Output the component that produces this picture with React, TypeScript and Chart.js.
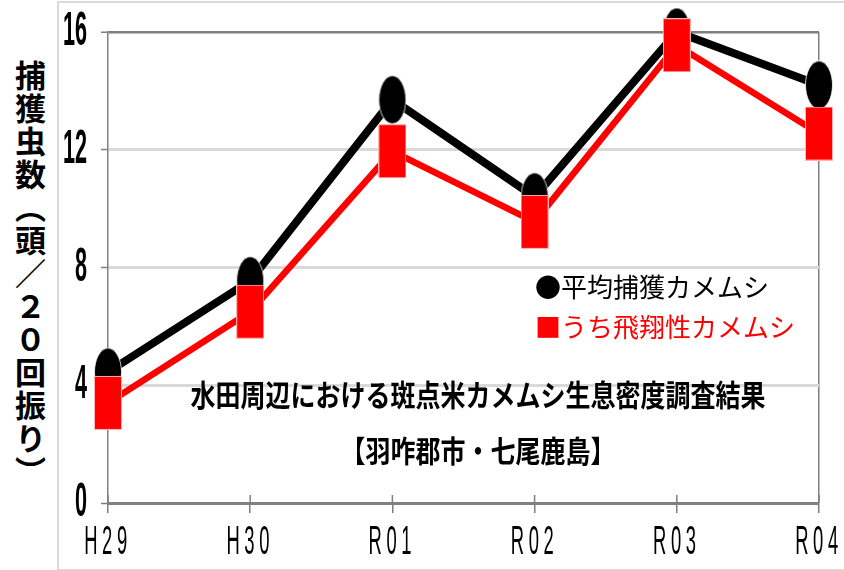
import React, { useEffect, useRef } from 'react';
import { Chart, registerables, LinearScale, CategoryScale } from 'chart.js';

Chart.register(...registerables);

const years = ['H29', 'H30', 'R01', 'R02', 'R03', 'R04'];
const averageCaught = [4.45, 7.55, 13.7, 10.4, 16.0, 14.2];
const flyingCaught = [3.4, 6.5, 11.95, 9.55, 15.55, 12.55];
const yTickValues = [0, 4, 8, 12, 16];
const seriesNames = ['平均捕獲カメムシ', 'うち飛翔性カメムシ'];
const legendMarks = ['●', '■'];
const titleLines = ['水田周辺における斑点米カメムシ生息密度調査結果', '【羽咋郡市・七尾鹿島】'];
const yAxisTitle = '捕獲虫数（頭／２０回振り）';

function squeezed(Base: any, id: string, sx: number, ls: number, inner: number) {
  class S extends Base {
    drawLabels(chartArea: any) {
      const opts = (this as any).options.ticks;
      if (!opts.display) return;
      const ctx: any = (this as any).ctx;
      const items = (this as any).getLabelItems(chartArea);
      for (const item of items) {
        const o = item.options;
        ctx.save();
        ctx.font = item.font.string;
        ctx.translate(o.translation[0], o.translation[1]);
        if (o.rotation) ctx.rotate(o.rotation);
        ctx.scale(sx, 1);
        ctx.fillStyle = o.color;
        ctx.textAlign = o.textAlign;
        ctx.textBaseline = o.textBaseline;
        ctx.letterSpacing = ls + 'px';
        ctx.fillText(String(item.label), 0, item.textOffset);
        ctx.restore();
      }
    }
    drawGrid(chartArea: any) {
      super.drawGrid(chartArea);
      if (inner > 0) {
        const self: any = this;
        const ctx = self.ctx;
        ctx.save();
        ctx.strokeStyle = '#7f7f7f';
        ctx.lineWidth = 1.5;
        ctx.beginPath();
        for (let i = 0; i < self.ticks.length; i++) {
          const x = self.getPixelForTick(i);
          ctx.moveTo(x, self.top - inner);
          ctx.lineTo(x, self.top);
        }
        ctx.stroke();
        ctx.restore();
      }
    }
  }
  (S as any).id = id;
  (S as any).defaults = Base.defaults;
  return S;
}

const SqueezedLinear = squeezed(LinearScale, 'sqLinear', 0.45, 0, 0);
const SqueezedCategory = squeezed(CategoryScale, 'sqCategory', 0.46, 10, 8);
Chart.register(SqueezedLinear as any, SqueezedCategory as any);

function makeEllipse(): HTMLCanvasElement {
  const c = document.createElement('canvas');
  c.width = 28;
  c.height = 49;
  const g = c.getContext('2d')!;
  g.beginPath();
  g.ellipse(14, 24.5, 13.5, 24, 0, 0, Math.PI * 2);
  g.fillStyle = '#000000';
  g.fill();
  g.strokeStyle = 'rgba(255,255,255,0.8)';
  g.lineWidth = 1;
  g.stroke();
  return c;
}

function makeRect(): HTMLCanvasElement {
  const c = document.createElement('canvas');
  c.width = 28;
  c.height = 54;
  const g = c.getContext('2d')!;
  g.fillStyle = '#ff0000';
  g.fillRect(0, 0, 28, 54);
  g.strokeStyle = 'rgba(255,200,200,0.9)';
  g.lineWidth = 1;
  g.strokeRect(0.5, 0.5, 27, 53);
  return c;
}

const overlayText = {
  id: 'overlayText',
  afterDraw(chart: any) {
    const { ctx, chartArea: ca } = chart;
    ctx.save();
    ctx.fillStyle = '#000';
    ctx.textAlign = 'center';
    ctx.textBaseline = 'middle';
    ctx.font = 'bold 25px "Noto Sans CJK JP", sans-serif';
    const cx = ca.left + 370;
    const ys = [ca.top + 363, ca.top + 419];
    titleLines.forEach((line, i) => {
      ctx.save();
      ctx.translate(cx, ys[i]);
      ctx.scale(1, 1.2);
      ctx.fillText(line, 0, 0);
      ctx.restore();
    });
    ctx.textAlign = 'left';
    ctx.font = '26px "Noto Sans CJK JP", sans-serif';
    const colors = ['#000000', '#ff0000'];
    const ly = [ca.top + 255, ca.top + 295];
    seriesNames.forEach((name, i) => {
      ctx.fillStyle = colors[i];
      ctx.fillText(legendMarks[i] + name, ca.left + 427, ly[i]);
    });
    ctx.restore();
  },
};

export default function App() {
  const ref = useRef<HTMLCanvasElement | null>(null);

  useEffect(() => {
    if (!ref.current) return;
    const ellipse = makeEllipse();
    const rect = makeRect();
    const chart = new Chart(ref.current, {
      type: 'line',
      data: {
        labels: years,
        datasets: [
          {
            label: seriesNames[0],
            data: averageCaught,
            borderColor: '#000000',
            backgroundColor: '#000000',
            borderWidth: 8,
            pointStyle: ellipse as any,
            pointRadius: 14,
            tension: 0,
            order: 2,
            clip: false as any,
          },
          {
            label: seriesNames[1],
            data: flyingCaught,
            borderColor: '#ff0000',
            backgroundColor: '#ff0000',
            borderWidth: 6.5,
            pointStyle: rect as any,
            pointRadius: 14,
            tension: 0,
            order: 1,
            clip: false as any,
          },
        ],
      },
      options: {
        animation: false,
        responsive: true,
        maintainAspectRatio: false,
        events: [],
        layout: { padding: { left: 8, top: 32, right: 25, bottom: 0 } },
        plugins: { legend: { display: false }, tooltip: { enabled: false } },
        scales: {
          x: {
            type: 'sqCategory' as any,
            offset: false,
            grid: {
              color: (c: any) => (c.index === years.length - 1 ? '#7f7f7f' : 'rgba(0,0,0,0)'),
              lineWidth: 1.5,
              tickColor: '#7f7f7f',
              tickWidth: 1.5,
              tickLength: 10,
              drawOnChartArea: true,
            },
            border: { color: '#808080', width: 3 },
            ticks: {
              color: '#000',
              font: { family: '"Liberation Sans", Arial, sans-serif', size: 40, lineHeight: 1.2 },
              padding: 6,
              maxRotation: 0,
              autoSkip: false,
            },
            afterFit: (s: any) => {
              s.height = 67;
              s.paddingLeft = 0;
              s.paddingRight = 0;
            },
          } as any,
          y: {
            type: 'sqLinear' as any,
            min: 0,
            max: 16,
            afterBuildTicks: (s: any) => {
              s.ticks = yTickValues.map((v) => ({ value: v }));
            },
            ticks: {
              color: '#000',
              font: { family: '"Liberation Sans", Arial, sans-serif', size: 48, weight: 'bold' },
              padding: 14,
            },
            grid: {
              color: (c: any) => (c.tick && c.tick.value === 16 ? '#7f7f7f' : '#d9d9d9'),
              lineWidth: (c: any) => (c.tick && c.tick.value === 16 ? 2.5 : 3),
              tickColor: '#7f7f7f',
              tickWidth: 1.5,
              tickLength: 7,
            },
            border: { color: '#808080', width: 1.5 },
            afterFit: (s: any) => {
              s.width = 100;
              s.paddingTop = 0;
              s.paddingBottom = 0;
            },
          } as any,
        },
      },
      plugins: [overlayText],
    });
    return () => chart.destroy();
  }, []);

  return (
    <div style={{ position: 'absolute', left: 0, top: 0, width: 844, height: 570, overflow: 'hidden', background: '#fff' }}>
      <div
        style={{
          position: 'absolute',
          left: 57,
          top: 1,
          width: 900,
          height: 566,
          borderLeft: '2px solid #d9d9d9',
          borderTop: '2px solid #d9d9d9',
          borderBottom: '2px solid #d9d9d9',
        }}
      />
      <div
        style={{
          position: 'absolute',
          left: 15,
          top: 60,
          writingMode: 'vertical-rl',
          textOrientation: 'upright',
          font: 'bold 31px "Noto Sans CJK JP", sans-serif',
          letterSpacing: '2px',
          lineHeight: 1,
          color: '#000',
        }}
      >
        {yAxisTitle}
      </div>
      <div style={{ position: 'absolute', left: 0, top: 0, width: 844, height: 570 }}>
        <canvas ref={ref} />
      </div>
    </div>
  );
}
